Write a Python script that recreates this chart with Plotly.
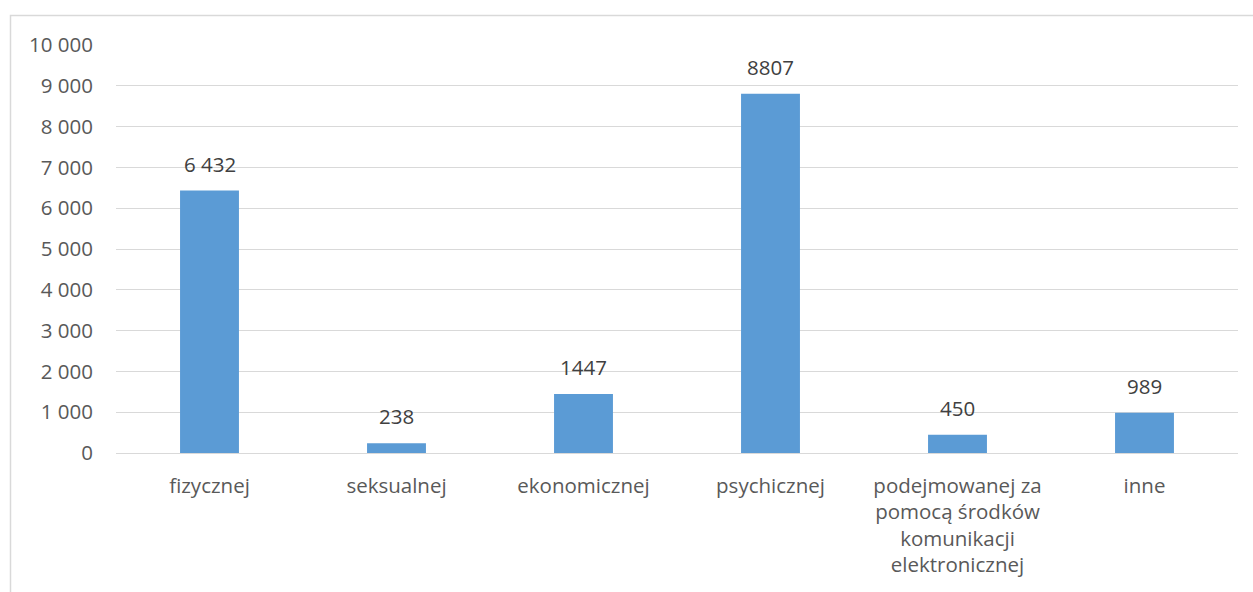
import plotly.graph_objects as go

categories = ["fizycznej", "seksualnej", "ekonomicznej", "psychicznej",
              "podejmowanej za<br>pomocą środków<br>komunikacji<br>elektronicznej", "inne"]
values = [6432, 238, 1447, 8807, 450, 989]
value_labels = ["6 432", "238", "1447", "8807", "450", "989"]
y_tickvals = [0, 1000, 2000, 3000, 4000, 5000, 6000, 7000, 8000, 9000, 10000]
y_ticktext = ["0", "1 000", "2 000", "3 000", "4 000", "5 000", "6 000", "7 000", "8 000", "9 000", "10 000"]

FONT = "Open Sans"
TXT = "#595959"
FS = 20.5

fig = go.Figure()
fig.add_trace(go.Bar(x=categories, y=values, marker=dict(color="#5b9bd5", line=dict(width=0)),
                     hoverinfo="skip"))

for c, v, t in zip(categories, values, value_labels):
    fig.add_annotation(x=c, y=v, text=t, showarrow=False, yanchor="bottom", yshift=11,
                       font=dict(family=FONT, size=FS, color="#404040"))

fig.update_layout(
    width=1253, height=592,
    margin=dict(l=116, r=15, t=45, b=139),
    paper_bgcolor="white", plot_bgcolor="white",
    bargap=0.685, showlegend=False,
    font=dict(family=FONT, size=FS, color=TXT),
    xaxis=dict(showgrid=False, showline=False, zeroline=False, ticks="",
               tickfont=dict(family=FONT, size=FS, color=TXT), ticklabelstandoff=18),
    yaxis=dict(range=[0, 10000], tickvals=y_tickvals, ticktext=y_ticktext,
               showgrid=True, gridcolor="#d9d9d9", gridwidth=1, zeroline=True,
               zerolinecolor="#d9d9d9", zerolinewidth=1, showline=False, ticks="",
               tickfont=dict(family=FONT, size=FS, color=TXT), ticklabelstandoff=22),
    shapes=[dict(type="rect", xref="paper", yref="paper",
                 x0=(10.5 - 116) / 1122, x1=1.05, y0=-0.5, y1=(453 - 15.5) / 408,
                 line=dict(color="#d9d9d9", width=1.5), fillcolor="rgba(0,0,0,0)", layer="below")],
)

fig.write_html("out.html")
